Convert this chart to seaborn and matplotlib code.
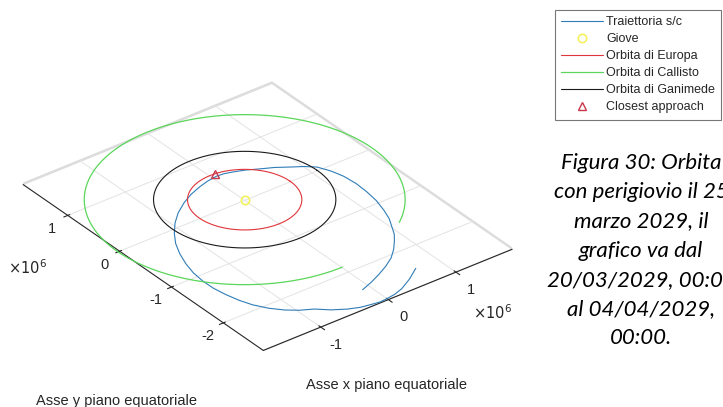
import numpy as np
import matplotlib
matplotlib.use("Agg")
import matplotlib.pyplot as plt
from matplotlib.ticker import FuncFormatter
import seaborn as sns

sns.set_style("white")
plt.rcParams['font.family'] = ['Liberation Sans', 'DejaVu Sans']
plt.rcParams['axes.unicode_minus'] = False

# ---- data (units of 10^6 km) ----
SCALE = 1e6
traj_x = [0.667, 0.46, 0.261, 0.12, -0.019, -0.117, -0.214, -0.37, -0.517, -0.68, -0.826,
          -0.98, -1.112, -1.24, -1.344, -1.41, -1.455, -1.485, -1.488, -1.465, -1.413,
          -1.335, -1.234, -1.11, -0.964, -0.795, -0.604, -0.425, -0.233, -0.09, 0.056,
          0.158, 0.255, 0.405, 0.541, 0.712, 0.868, 1.0, 1.113, 1.19, 1.237, 1.255, 1.243,
          1.213, 1.155, 1.09, 0.998, 0.928, 0.841, 0.715, 0.575, 0.412, 0.241, 0.065, -0.116]
traj_y = [-2.429, -2.575, -2.687, -2.735, -2.757, -2.765, -2.749, -2.72, -2.658, -2.555, -2.420,
          -2.335, -2.228, -2.08, -1.906, -1.725, -1.535, -1.34, -1.138, -0.92, -0.710,
          -0.49, -0.277, -0.09, 0.087, 0.245, 0.380, 0.478, 0.551, 0.592, 0.614,
          0.603, 0.574, 0.515, 0.440, 0.352, 0.245, 0.158, 0.056, -0.115, -0.297, -0.512, -0.730,
          -0.955, -1.176, -1.365, -1.541, -1.674, -1.791, -1.94, -2.072, -2.18, -2.272, -2.355, -2.425]
r_europa = 0.671
r_ganimede = 1.070
r_callisto = 1.883
callisto_arc_deg = [-53.0, 270.0]
giove = [0.0, 0.0]
closest = [0.07, 0.66]
xlim = [-1.85, 1.83]
ylim = [-2.77, 1.86]
x_ticks = [-1, 0, 1]
y_ticks = [-2, -1, 0, 1]
legend_labels = ["Traiettoria s/c", "Giove", "Orbita di Europa", "Orbita di Callisto",
                 "Orbita di Ganimede", "Closest approach"]
caption_lines = ["Figura 30: Orbita", "con perigiovio il 25", "marzo 2029, il",
                 "grafico va dal", "20/03/2029, 00:00", "al 04/04/2029,", "00:00."]

c_blue = "#2f7db8"
c_red = "#e0353a"
c_green = "#5ad65a"
c_black = "#1a1a1a"
c_yellow = "#f2f25a"
c_tri = "#c8374a"
c_text = "#262626"

fig = plt.figure(figsize=(7.23, 4.07), dpi=100)
ax = fig.add_axes([0.0225, -0.1485, 0.677, 1.202], projection='3d', proj_type='ortho')
ax.view_init(elev=32, azim=-127.5)
ax.set_box_aspect((xlim[1] - xlim[0], ylim[1] - ylim[0], 0.02))

def circ(r, a0=0.0, a1=360.0):
    t = np.deg2rad(np.linspace(a0, a1, 400))
    return r * np.cos(t) * SCALE, r * np.sin(t) * SCALE

h = []
h += ax.plot(np.array(traj_x) * SCALE, np.array(traj_y) * SCALE, 0, color=c_blue, lw=0.8)
h += ax.plot([giove[0]], [giove[1]], [0], 'o', mfc='none', mec=c_yellow, ms=6, mew=1.2, ls='none')
x, y = circ(r_europa); h += ax.plot(x, y, 0, color=c_red, lw=0.8)
x, y = circ(r_callisto, *callisto_arc_deg); h += ax.plot(x, y, 0, color=c_green, lw=0.9)
x, y = circ(r_ganimede); h += ax.plot(x, y, 0, color=c_black, lw=0.8)
h += ax.plot([closest[0] * SCALE], [closest[1] * SCALE], [0], '^', mfc='none', mec=c_tri, ms=6, mew=1.0, ls='none')

ax.set_xlim(xlim[0] * SCALE, xlim[1] * SCALE)
ax.set_ylim(ylim[0] * SCALE, ylim[1] * SCALE)
ax.set_zlim(-1, 1)
ax.set_xticks(np.array(x_ticks) * SCALE)
ax.set_yticks(np.array(y_ticks) * SCALE)
ax.set_zticks([])
fmt = FuncFormatter(lambda v, p: "%d" % round(v / SCALE))
ax.xaxis.set_major_formatter(fmt)
ax.yaxis.set_major_formatter(fmt)
ax.tick_params(labelsize=10.5, colors=c_text)
for a in (ax.xaxis, ax.yaxis, ax.zaxis):
    a.set_pane_color((1.0, 1.0, 1.0, 1.0))
    a.pane.set_edgecolor('#dcdcdc')
    a.pane.set_linewidth(0.9)
    a._axinfo['grid']['color'] = '#e3e3e3'
    a._axinfo['grid']['linewidth'] = 0.7
    a._axinfo['axisline']['color'] = '#3a3a3a'
ax.zaxis.line.set_color((1, 1, 1, 0))

fig.text(492 / 723, 1 - 313 / 407, r"$\times10^{6}$", ha='center', va='center', fontsize=10.5, color=c_text)
fig.text(27 / 723, 1 - 268 / 407, r"$\times10^{6}$", ha='center', va='center', fontsize=10.5, color=c_text)
fig.text(387 / 723, 1 - 385 / 407, "Asse x piano equatoriale", ha='center', va='center', fontsize=10.5, color=c_text)
fig.text(36 / 723, 1 - 401 / 407, "Asse y piano equatoriale", ha='left', va='center', fontsize=10.5, color=c_text)

leg = fig.legend(h, legend_labels, loc='upper left', bbox_to_anchor=(555 / 723, 1 - 10 / 407),
                 fontsize=9, frameon=True, fancybox=False, edgecolor='#555555', handlelength=3.3,
                 borderpad=0.5, labelspacing=0.40, handletextpad=0.3, borderaxespad=0)
leg.get_frame().set_linewidth(0.8)
for t in leg.get_texts():
    t.set_color(c_text)

for i, line in enumerate(caption_lines):
    fig.text(641 / 723, 1 - (163 + 29.2 * i) / 407, line, ha='center', va='center',
             fontsize=16, style='italic', family='Lato', color='black')

fig.savefig("out.png", dpi=100)
